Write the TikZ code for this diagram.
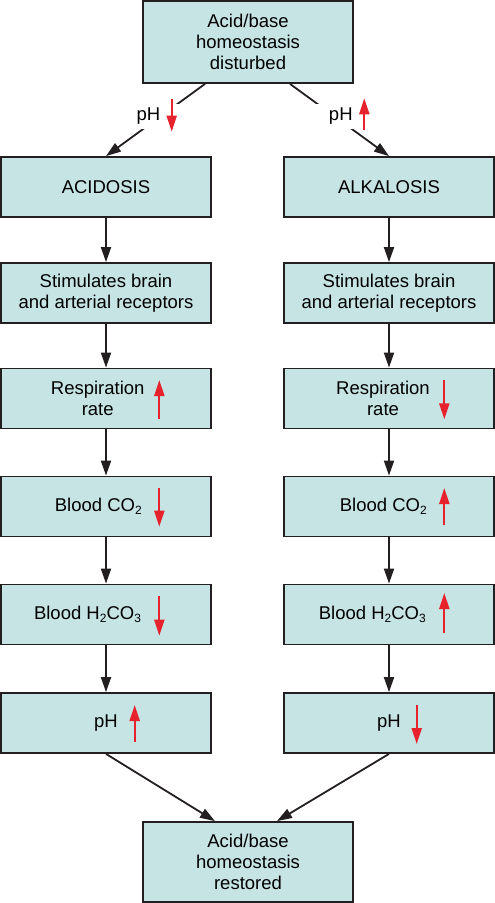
\documentclass[tikz,border=0pt]{standalone}
\usepackage{fontspec}
\setmainfont{Liberation Sans}
\usetikzlibrary{arrows.meta}
\definecolor{boxfill}{RGB}{198,228,228}
\definecolor{boxline}{RGB}{35,31,32}
\definecolor{upred}{RGB}{230,35,45}
\newcommand{\lowsub}[1]{\raisebox{-3.5pt}{\fontsize{12}{12}\selectfont #1}}
\newcommand{\spc}[1]{\rule{#1}{0pt}}
\begin{document}
\begin{tikzpicture}[x=1pt,y=-1pt,
  every node/.style={font=\fontsize{18.5}{21}\selectfont},
  box/.style={draw=boxline, line width=1.8pt, fill=boxfill, minimum width=210pt, minimum height=60pt, inner sep=0pt, align=center},
  bigbox/.style={box, font=\fontsize{18.5}{20.8}\selectfont},
  arr/.style={draw=boxline, line width=1.8pt, -{Triangle[length=15pt,width=10pt]}},
  redarr/.style={draw=upred, line width=2.1pt, -{Triangle[length=16pt,width=10pt]}},
  lbl/.style={fill=white, inner sep=0pt, minimum height=25pt, text height=13.3pt, text depth=3.9pt}
]
\useasboundingbox (0,0) rectangle (495,903);

% boxes
\node[bigbox, minimum height=82pt] (top) at (248,42) {Acid/base\\homeostasis\\disturbed};
\node[box] (acid) at (106,187) {ACIDOSIS};
\node[box] (alk) at (389,187) {ALKALOSIS};
\node[box] (stimL) at (106,293) {Stimulates brain\\and arterial receptors};
\node[box] (stimR) at (389,293) {Stimulates brain\\and arterial receptors};
\node[box] (respL) at (106,398.5) {Respiration\spc{16.6pt}\\rate\spc{16.6pt}};
\node[box] (respR) at (389,398.5) {Respiration\spc{12pt}\\rate\spc{12pt}};
\node[box] (co2L) at (106,506.5) {Blood CO\lowsub{2}\spc{15.4pt}};
\node[box] (co2R) at (389,506.5) {Blood CO\lowsub{2}\spc{11.4pt}};
\node[box] (hcoL) at (106,614.5) {Blood H\lowsub{2}CO\lowsub{3}\spc{37pt}};
\node[box] (hcoR) at (389,614.5) {Blood H\lowsub{2}CO\lowsub{3}\spc{33.4pt}};
\node[box] (phL) at (106,723) {pH};
\node[box] (phR) at (389,723) {pH};
\node[bigbox, minimum height=80pt] (bot) at (248,862) {Acid/base\\homeostasis\\restored};

% connectors
\draw[arr] ([xshift=-43pt]top.south) -- (acid.north);
\draw[arr] ([xshift=42pt]top.south) -- (alk.north);
\draw[arr] (acid.south) -- (stimL.north);
\draw[arr] (alk.south) -- (stimR.north);
\draw[arr] (stimL.south) -- (respL.north);
\draw[arr] (stimR.south) -- (respR.north);
\draw[arr] (respL.south) -- (co2L.north);
\draw[arr] (respR.south) -- (co2R.north);
\draw[arr] (co2L.south) -- (hcoL.north);
\draw[arr] (co2R.south) -- (hcoR.north);
\draw[arr] (hcoL.south) -- (phL.north);
\draw[arr] (hcoR.south) -- (phR.north);
\draw[arr] (phL.south) -- ([xshift=-33pt]bot.north);
\draw[arr] (phR.south) -- ([xshift=29pt]bot.north);

% branch labels
\node[lbl] (lblL) at (159.5,116) {pH\spc{22pt}};
\node[lbl] (lblR) at (342.8,116) {\spc{14pt}pH\spc{18pt}};

% red trend arrows
\draw[redarr] (171.7,99.3) -- (171.7,131.7);
\draw[redarr] (364.3,130) -- (364.3,98.3);
\draw[redarr] (159.3,419.3) -- (159.3,380);
\draw[redarr] (444.3,380) -- (444.3,419.3);
\draw[redarr] (159.3,488) -- (159.3,526.7);
\draw[redarr] (444.3,525) -- (444.3,488);
\draw[redarr] (159.3,596) -- (159.3,635.7);
\draw[redarr] (444.3,633) -- (444.3,593);
\draw[redarr] (134.7,741.7) -- (134.7,705);
\draw[redarr] (416.7,705) -- (416.7,744);
\end{tikzpicture}
\end{document}
